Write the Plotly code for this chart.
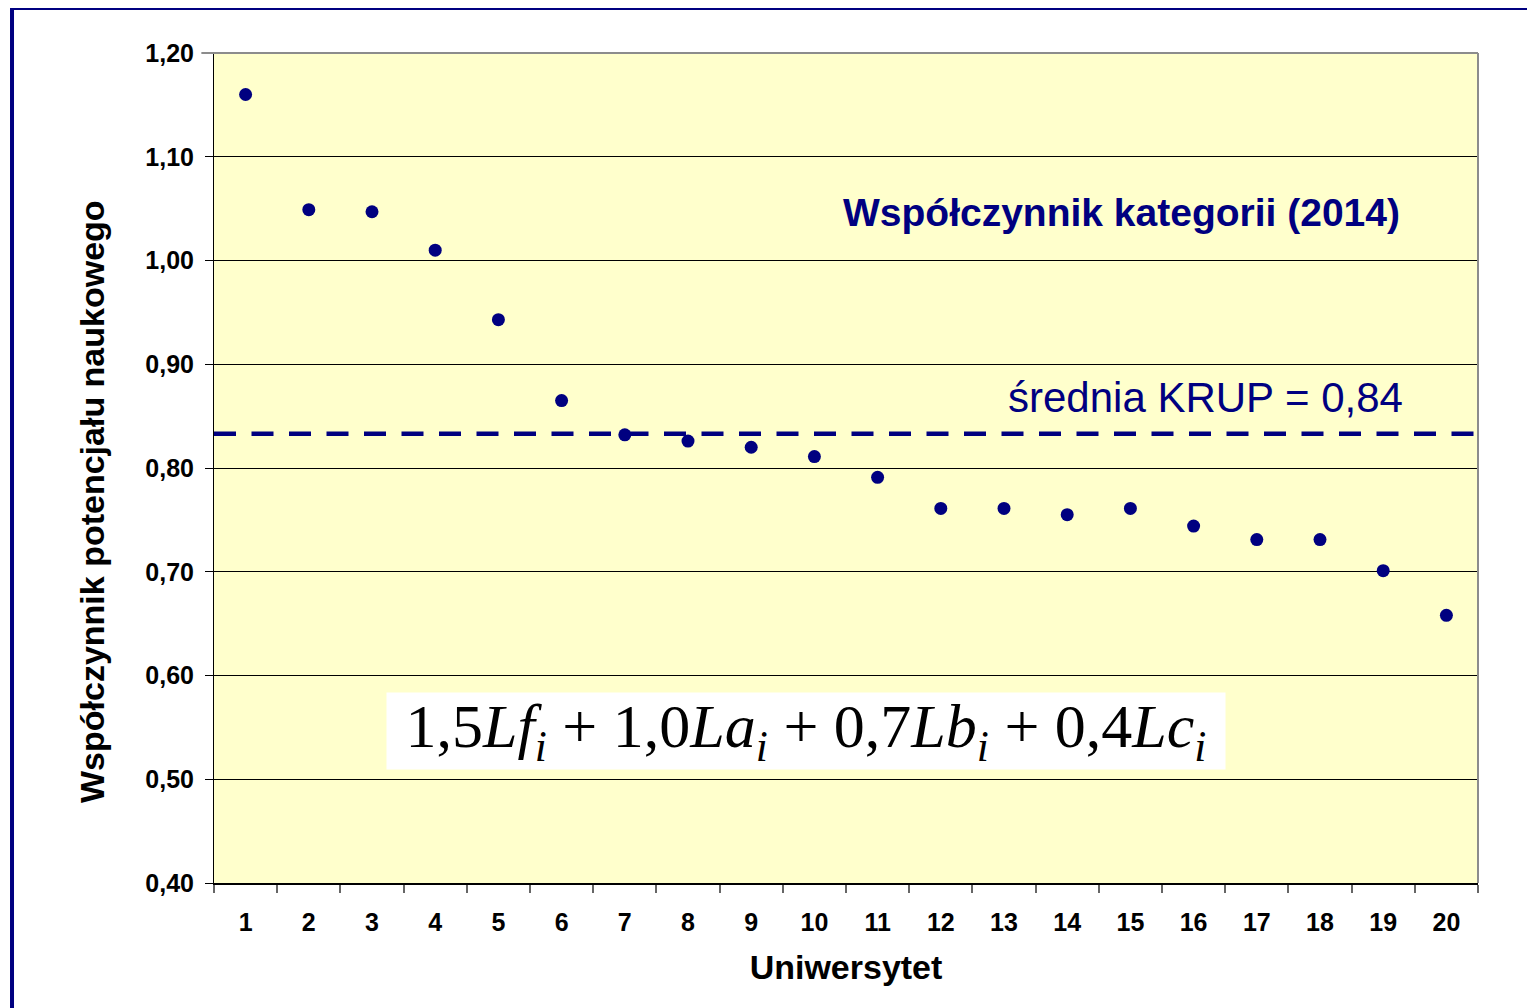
import plotly.graph_objects as go

universities = [str(i) for i in range(1, 21)]
values = [1.160, 1.049, 1.047, 1.010, 0.943, 0.865, 0.832, 0.826, 0.820, 0.811,
          0.791, 0.761, 0.761, 0.755, 0.761, 0.744, 0.731, 0.731, 0.701, 0.658]
mean_value = 0.833
y_ticks = [0.40, 0.50, 0.60, 0.70, 0.80, 0.90, 1.00, 1.10, 1.20]

NAVY = "#000080"
OFF = 8  # default page body margin

fig = go.Figure()
fig.add_trace(go.Scatter(
    x=universities, y=values, mode="markers",
    marker=dict(color=NAVY, size=13, line=dict(width=0)),
    showlegend=False, cliponaxis=False,
))

# mean dashed line
fig.add_shape(type="line", xref="paper", yref="y", x0=0, x1=1.003,
              y0=mean_value, y1=mean_value,
              line=dict(color=NAVY, width=4.5, dash="22px,15.5px"), layer="above")
# right and top borders of plot area (gray)
fig.add_shape(type="line", xref="paper", yref="paper", x0=1, x1=1, y0=0, y1=1,
              line=dict(color="#8c8c8c", width=2), layer="above")
fig.add_shape(type="line", xref="paper", yref="paper", x0=-0.01, x1=1, y0=1, y1=1,
              line=dict(color="#8c8c8c", width=2), layer="above")
# outer navy frame (right and bottom edges run off the page)
fig.add_shape(type="rect", xref="paper", yref="paper",
              x0=-0.1598, x1=1.2, y0=-0.3, y1=1.0542,
              line=dict(color=NAVY, width=4), fillcolor="rgba(0,0,0,0)", layer="above")

fig.add_annotation(xref="paper", yref="paper", x=(1121 - 214) / 1264, y=(883 - 212) / 830,
                   text="<b>Współczynnik kategorii (2014)</b>", showarrow=False,
                   font=dict(family="Liberation Sans, Arial", size=39, color=NAVY),
                   xanchor="center", yanchor="middle")
fig.add_annotation(xref="paper", yref="paper", x=(1405 - 214) / 1264, y=(883 - 398) / 830,
                   text="średnia KRUP = 0,84", showarrow=False,
                   font=dict(family="Liberation Sans, Arial", size=42, color=NAVY),
                   xanchor="right", yanchor="middle")
fig.add_annotation(xref="paper", yref="paper", x=(806 - 214) / 1264, y=(883 - 731) / 830,
                   text="1,5<i>Lf</i><sub><i>i</i></sub> + 1,0<i>La</i><sub><i>i</i></sub> + 0,7<i>Lb</i><sub><i>i</i></sub> + 0,4<i>Lc</i><sub><i>i</i></sub>",
                   showarrow=False, bgcolor="white",
                   font=dict(family="Liberation Serif, DejaVu Serif", size=62, color="black"),
                   xanchor="center", yanchor="middle", width=836, height=74)
# y-axis title (placed as annotation to match the reference's off-centre position)
fig.add_annotation(xref="paper", yref="paper", x=(92 - 214) / 1264, y=(883 - 502) / 830,
                   text="<b>Współczynnik potencjału naukowego</b>", showarrow=False,
                   textangle=-90, font=dict(family="Liberation Sans, Arial", size=34, color="black"),
                   xanchor="center", yanchor="middle")

fig.update_layout(
    width=1535 - OFF, height=1008 - OFF,
    margin=dict(l=214 - OFF, r=57, t=53 - OFF, b=125),
    paper_bgcolor="white", plot_bgcolor="#FFFFCC",
    separators=",.",
    font=dict(family="Liberation Sans, Arial", color="black"),
    xaxis=dict(
        type="category", tickson="boundaries", ticks="outside", ticklen=8,
        tickcolor="#666666", tickwidth=2, showgrid=False,
        showline=True, linecolor="black", linewidth=2,
        tickfont=dict(size=25, family="Liberation Sans, Arial", color="black", weight="bold"),
        ticklabelstandoff=16,
        title=dict(text="<b>Uniwersytet</b>", font=dict(size=34), standoff=20),
        range=[-0.5, 19.5], zeroline=False,
    ),
    yaxis=dict(
        range=[0.40, 1.20], tickvals=y_ticks, tickformat=".2f",
        ticks="outside", ticklen=8, tickcolor="black", tickwidth=1,
        showgrid=True, gridcolor="black", gridwidth=1,
        showline=True, linecolor="black", linewidth=1, zeroline=False,
        tickfont=dict(size=25, family="Liberation Sans, Arial", color="black", weight="bold"),
        ticklabelstandoff=6,
    ),
)

fig.write_html("out.html")
